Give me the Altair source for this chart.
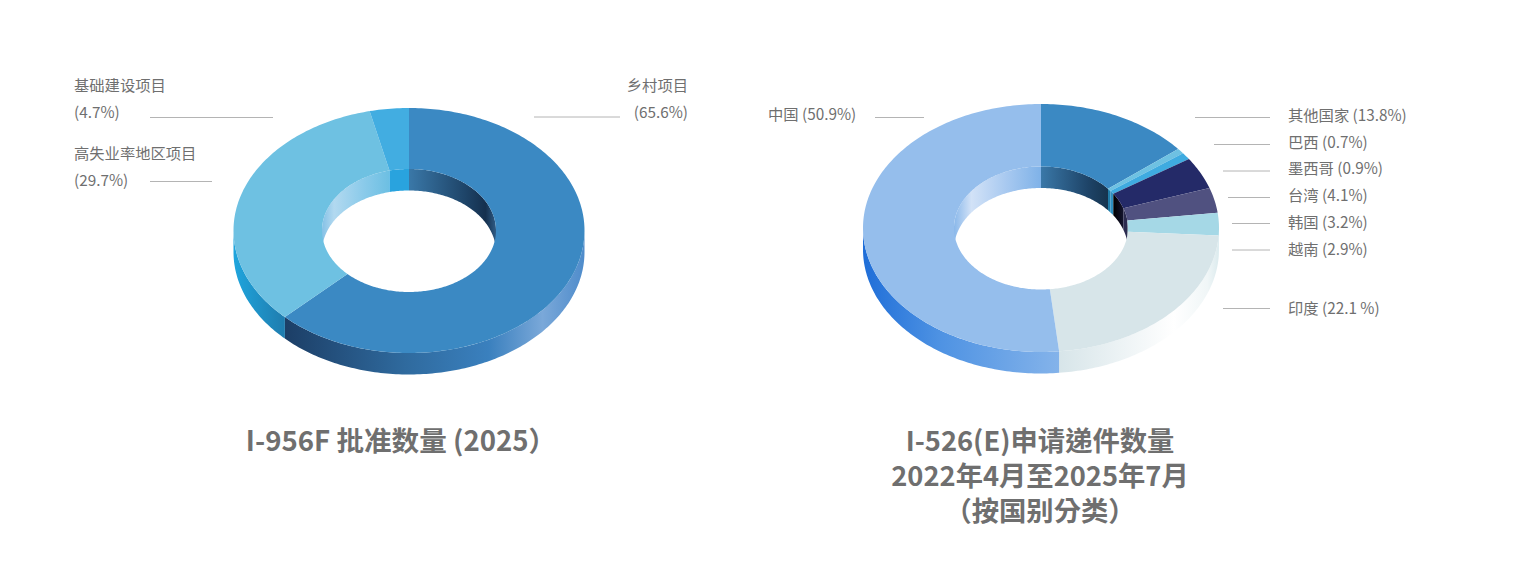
import math
import altair as alt

# ---- chart values -------------------------------------------------------
labels_left = ["乡村项目", "高失业率地区项目", "基础建设项目"]
values_left = [65.6, 29.7, 4.7]
# the picture does not draw the left ring in proportion: spans as read, in %
drawn_left = [62.5, 33.9, 3.6]

labels_right = ["其他国家", "巴西", "墨西哥", "台湾", "韩国", "越南", "印度", "中国"]
values_right = [13.8, 0.7, 0.9, 4.1, 3.2, 2.9, 22.1, 50.9]

title_left = ["I-956F 批准数量 (2025）"]
title_right = ["I-526(E)申请递件数量", "2022年4月至2025年7月", "（按国别分类）"]

# ---- styles -------------------------------------------------------------
TEXT = "#6f6f6f"
RULE = "#b4b4b4"
FONT = "Noto Sans CJK SC"
TITLE_FONT = "Noto Sans CJK TC"
OFF = 8  # page margin


def grad(*stops):
    n = len(stops)
    gs = []
    for i, s in enumerate(stops):
        c, o = s if isinstance(s, tuple) else (s, i / (n - 1))
        gs.append(alt.GradientStop(color=c, offset=o))
    return alt.LinearGradient(gradient="linear", stops=gs, x1=0, x2=1, y1=0, y2=0)


style_left = [
    dict(top="#3B89C3",
         outer=grad(("#1C3E66", 0), ("#2F6A9E", .4), ("#3A80BE", .68), ("#7AA8D9", .86), ("#4F8CCB", 1)),
         inner=grad("#3A78A8", ("#1E4468", .65), ("#15304E", .88), ("#2F5C86", 1))),
    dict(top="#6EC1E2",
         outer=grad("#1FA5DD", "#1F7CAE"),
         inner=grad(("#85C1E6", 0), ("#B2D9F0", .18), ("#8CCBEA", .6), ("#6CBFE3", 1))),
    dict(top="#42ADE1", outer="#42ADE1", inner="#29A3DE"),
]
style_right = [
    dict(top="#3B89C3", outer="#3B89C3", inner=grad("#3A78A8", ("#1E4468", .7), "#16344F")),
    dict(top="#6EC1E2", outer="#6EC1E2", inner="#1F7BA8"),
    dict(top="#3FABE0", outer="#3FABE0", inner="#2E8FC0"),
    dict(top="#242A68", outer="#242A68", inner=grad("#000000", "#14142E")),
    dict(top="#505180", outer="#505180", inner="#2B2B4F"),
    dict(top="#A5D8E6", outer="#A5D8E6", inner="#5E6E82"),
    dict(top="#D7E5E9", outer=grad(("#D7E5E9", 0), ("#FFFFFF", .72), ("#F0F6F7", .93), ("#DCEBEE", 1)), inner="#D7E5E9"),
    dict(top="#95BEEC",
         outer=grad("#1F6ED8", ("#4F93E3", .4), "#84B3EA"),
         inner=grad(("#8AB8EA", 0), ("#D2E2F7", .2), ("#A8C9F0", .6), ("#7FB2E8", 1))),
]


def point(g, a, rx, ry, dy=0):
    t = math.radians(a)
    return [g["cx"] + rx * math.sin(t) - OFF, g["cy"] - ry * math.cos(t) + dy - OFF]


def sweep(a0, a1):
    n = max(2, int(abs(a1 - a0)) + 2)
    return [a0 + (a1 - a0) * i / (n - 1) for i in range(n)]


def shape(ring, fill):
    ring = ring + [ring[0]]
    feature = {"type": "Feature", "properties": {},
               "geometry": {"type": "Polygon", "coordinates": [ring]}}
    return (alt.Chart(alt.Data(values=[feature]))
            .mark_geoshape(fill=fill, strokeWidth=0)
            .project(type="identity", scale=1, translate=[0, 0]))


def donut(shares, styles, g):
    total = sum(shares)
    walls, faces = [], []
    a = 0.0
    for share, st in zip(shares, styles):
        b = a + share / total * 360
        # outer wall: the front half of the ring
        lo, hi = max(a, 90), min(b, 270)
        if hi > lo:
            ang = sweep(lo, hi)
            walls.append(shape([point(g, t, g["rx"], g["ry"]) for t in ang] +
                               [point(g, t, g["rx"], g["ry"], g["depth"]) for t in reversed(ang)],
                               st["outer"]))
        # inner wall: the back half of the hole
        for lo, hi in ((max(a, 270), min(b, 360)), (max(a, 0), min(b, 90))):
            if hi > lo:
                ang = sweep(lo, hi)
                walls.append(shape([point(g, t, g["irx"], g["iry"]) for t in ang] +
                                   [point(g, t, g["irx"], g["iry"], g["depth"]) for t in reversed(ang)],
                                   st["inner"]))
        ang = sweep(a, b)
        faces.append(shape([point(g, t, g["rx"], g["ry"]) for t in ang] +
                           [point(g, t, g["irx"], g["iry"]) for t in reversed(ang)],
                           st["top"]))
        a = b
    return walls + faces


def text(s, x, y, size=15.3, align="left", weight="normal", color=TEXT, font=FONT, **kw):
    return (alt.Chart(alt.Data(values=[{"t": s}]))
            .mark_text(font=font, fontSize=size, align=align, baseline="middle",
                       fontWeight=weight, color=color, **kw)
            .encode(text="t:N", x=alt.value(x - OFF), y=alt.value(y - OFF)))


def rule(x0, x1, y):
    return (alt.Chart(alt.Data(values=[{"a": 0}]))
            .mark_rule(color=RULE, strokeWidth=1)
            .encode(x=alt.value(x0 - OFF), x2=alt.value(x1 - OFF), y=alt.value(y - OFF)))


pct = lambda v: f"({v}%)"

left_geo = dict(cx=409, cy=230.5, rx=175.5, ry=122.5, irx=87, iry=61.5, depth=21.5)
right_geo = dict(cx=1041, cy=228, rx=178, ry=124, irx=87, iry=61.5, depth=21.5)

layers = donut(drawn_left, style_left, left_geo) + donut(values_right, style_right, right_geo)

layers += [
    text(labels_left[2], 74, 86), text(pct(values_left[2]), 74, 113),
    text(labels_left[1], 74, 154), text(pct(values_left[1]), 74, 181),
    text(labels_left[0], 688, 86, align="right"), text(pct(values_left[0]), 688, 113, align="right"),
    rule(150, 273, 117.5), rule(150, 212, 181.5), rule(534, 620, 117),
]

right_rows = [(0, 116, 1195, 117.5), (1, 142.5, 1214, 144.5), (2, 169, 1223, 171), (3, 196, 1228, 197.5),
              (4, 223, 1232, 223.5), (5, 250, 1232, 250), (6, 309, 1223, 308.5)]
for i, ty, rx0, ry0 in right_rows:
    v = f"{values_right[i]} %" if i == 6 else f"{values_right[i]}%"
    layers.append(text(f"{labels_right[i]} ({v})", 1288, ty))
    layers.append(rule(rx0, 1270, ry0))
layers.append(text(f"{labels_right[7]} ({values_right[7]}%)", 768, 115))
layers.append(rule(875, 924, 117.5))

layers.append(text(title_left[0], 401, 442.5, size=27.6, align="center", weight="bold", font=TITLE_FONT))
layers.append(text("\n".join(title_right), 1040, 442.5, size=27.3, align="center", weight="bold",
                   font=TITLE_FONT, lineBreak="\n", lineHeight=35))

chart = (alt.layer(*layers)
         .properties(width=1510, height=540, padding=0, background="white",
                     autosize=alt.AutoSizeParams(type="none"))
         .configure_view(strokeWidth=0, stroke="transparent"))

chart.save("out.html", embed_options={"renderer": "svg", "actions": False})
